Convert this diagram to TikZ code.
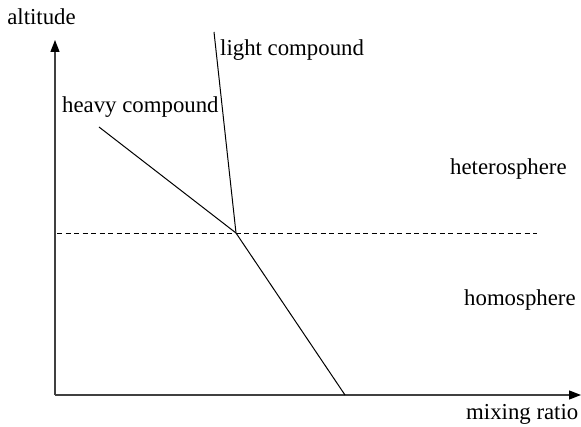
\documentclass[tikz,border=0pt]{standalone}
\usepackage{fontspec}
\setmainfont{Liberation Serif}
\usetikzlibrary{arrows.meta}
\begin{document}
\begin{tikzpicture}[x=1pt,y=-1pt,
  lbl/.style={inner sep=0pt,font=\fontsize{22.8}{27}\selectfont},
  axis/.style={line width=1.3pt,black!75,-{Triangle[length=12pt,width=9pt,black]}},
  curve/.style={line width=1pt},
  boundary/.style={line width=0.9pt,dash pattern=on 5pt off 3.5pt}]
\useasboundingbox (0,0) rectangle (581,427);
\coordinate (O) at (55,395);
\coordinate (ytop) at (55,40);
\coordinate (xend) at (581,395);
\coordinate (dl) at (57,233);
\coordinate (dr) at (537,233);
\coordinate (X) at (236,233);
\coordinate (ltop) at (214,32);
\coordinate (htop) at (99,127);
\coordinate (hbot) at (345,395);
\draw[axis] (O) -- (ytop);
\draw[axis] (O) -- (xend);
\draw[boundary] (dl) -- (dr);
\draw[curve] (ltop) -- (X);
\draw[curve] (htop) -- (X) -- (hbot);
\node[lbl,anchor=base] (alt) at (41.5,25) {altitude};
\node[lbl,anchor=base west] (light) at (220,56) {light compound};
\node[lbl,anchor=base west] (heavy) at (62,113) {heavy compound};
\node[lbl,anchor=base west] (hetero) at (450,175) {heterosphere};
\node[lbl,anchor=base west] (homo) at (464,306) {homosphere};
\node[lbl,anchor=base west] (mix) at (466,420) {mixing ratio};
\end{tikzpicture}
\end{document}
